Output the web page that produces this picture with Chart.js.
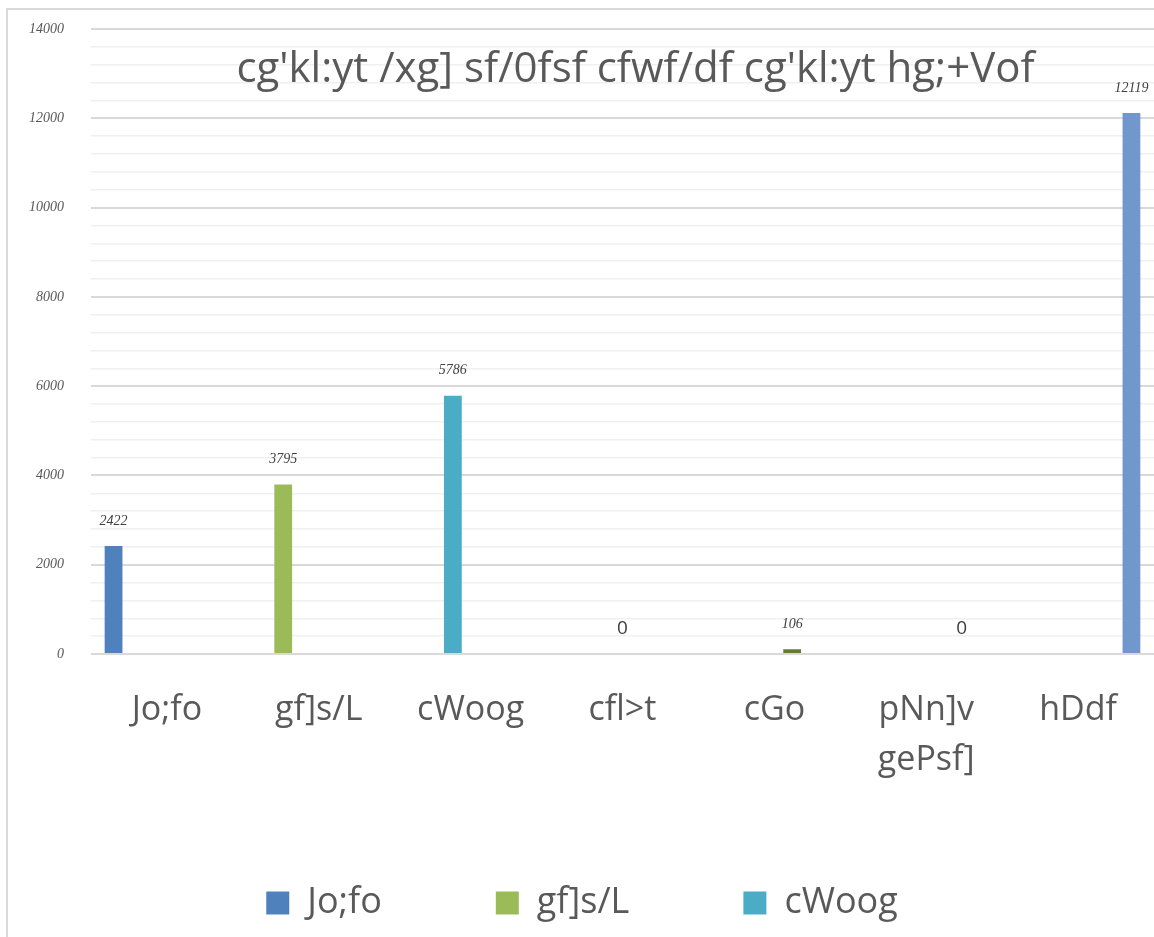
<!DOCTYPE html>
<html>
<head>
<meta charset="utf-8">
<script src="https://cdn.jsdelivr.net/npm/chart.js@4/dist/chart.umd.min.js"></script>
<style>
  html, body { margin: 0; padding: 0; background: #fff; overflow: hidden; }
  canvas { display: block; }
</style>
</head>
<body>
<canvas id="chart" width="1154" height="937"></canvas>
<script>
const chartTitle = "cg'kl:yt /xg] sf/0fsf cfwf/df cg'kl:yt hg;+Vof";
const categories = ['Jo;fo', 'gf]s/L', 'cWoog', 'cfl>t', 'cGo', ['pNn]v', 'gePsf]'], 'hDdf'];
const seriesNames = ['Jo;fo', 'gf]s/L', 'cWoog', 'cfl>t', 'cGo', 'pNn]v gePsf]', 'hDdf'];
const values = [2422, 3795, 5786, 0, 106, 0, 12119];
const colors = ['#4f81bd', '#9bbb59', '#4bacc6', '#f79646', '#647a35', '#8064a2', '#7297cd'];

const textGrey = '#595959';

// one series per category, each only filled at its own category (Excel style)
const datasets = seriesNames.map((name, i) => ({
  label: name,
  data: categories.map((_, j) => (j === i ? values[i] : null)),
  backgroundColor: colors[i],
  borderWidth: 0,
  barPercentage: 1,
  categoryPercentage: 0.82,
}));

const framePlugin = {
  id: 'frame',
  beforeDraw(chart) {
    const { ctx, width, height } = chart;
    ctx.save();
    ctx.strokeStyle = '#d9d9d9';
    ctx.lineWidth = 2;
    ctx.beginPath();
    ctx.moveTo(7, height);
    ctx.lineTo(7, 9);
    ctx.lineTo(width, 9);
    ctx.stroke();
    ctx.restore();
  },
};

// legend padding is large to spread the items, so keep its box short;
// and let the two-line x label run below the x scale box
const layoutTweaks = {
  id: 'layoutTweaks',
  beforeLayout(chart) {
    const lg = chart.legend;
    if (!lg || lg._patched) return;
    const fit = lg.fit;
    lg.fit = function () {
      fit.call(this);
      this.height = 157;
    };
    lg._patched = true;
  },
  afterLayout(chart) {
    chart.scales.x.bottom = chart.height;
  },
};

const overlayTitle = {
  id: 'overlayTitle',
  afterDraw(chart) {
    const { ctx, chartArea } = chart;
    ctx.save();
    ctx.font = '42px "Open Sans"';
    ctx.fillStyle = textGrey;
    ctx.textAlign = 'center';
    ctx.textBaseline = 'middle';
    ctx.fillText(chartTitle, (chartArea.left + chartArea.right) / 2 + 13, chartArea.top + 41);
    ctx.restore();
  },
};

const barLabels = {
  id: 'barLabels',
  afterDatasetsDraw(chart) {
    const { ctx } = chart;
    ctx.save();
    ctx.textAlign = 'center';
    ctx.textBaseline = 'middle';
    chart.data.datasets.forEach((ds, i) => {
      const meta = chart.getDatasetMeta(i);
      meta.data.forEach((bar, j) => {
        const v = ds.data[j];
        if (v === null || v === undefined) return;
        if (v === 0) {
          ctx.font = '19px "Open Sans"';
        } else {
          ctx.font = 'italic 14px "Liberation Serif"';
        }
        ctx.fillStyle = '#404040';
        ctx.fillText(String(v), bar.x, bar.y - 25);
      });
    });
    ctx.restore();
  },
};

new Chart(document.getElementById('chart'), {
  type: 'bar',
  data: { labels: categories, datasets },
  plugins: [framePlugin, layoutTweaks, barLabels, overlayTitle],
  options: {
    responsive: false,
    animation: false,
    layout: { padding: { left: 10, right: 0, top: 29, bottom: 9 } },
    plugins: {
      title: { display: false },
      tooltip: { enabled: false },
      legend: {
        position: 'bottom',
        labels: {
          filter: (item) => item.datasetIndex < 3,
          boxWidth: 23,
          boxHeight: 23,
          padding: 114,
          color: textGrey,
          font: { family: 'Open Sans', size: 36 },
        },
        onClick: null,
      },
    },
    scales: {
      x: {
        grid: { display: false },
        border: { display: false },
        ticks: {
          color: textGrey,
          font: { family: 'Open Sans', size: 34, lineHeight: 1.45 },
          padding: 24,
          maxRotation: 0,
          autoSkip: false,
        },
        afterFit: (scale) => { scale.height = 117; },
      },
      y: {
        min: 0,
        max: 14000,
        border: { display: false },
        grid: {
          drawTicks: false,
          color: (c) => (c.tick.value % 2000 === 0 ? '#d9d9d9' : '#f0f0f0'),
          lineWidth: (c) => (c.tick.value % 2000 === 0 ? 2 : 1.5),
        },
        ticks: {
          stepSize: 400,
          autoSkip: false,
          padding: 27,
          color: textGrey,
          font: { family: 'Liberation Serif', style: 'italic', size: 14 },
          callback: (v) => (v % 2000 === 0 ? String(v) : ''),
        },
        afterFit: (scale) => {
          scale.width = 81;
          scale.paddingTop = 0;
          scale.paddingBottom = 0;
        },
      },
    },
  },
});
</script>
</body>
</html>
